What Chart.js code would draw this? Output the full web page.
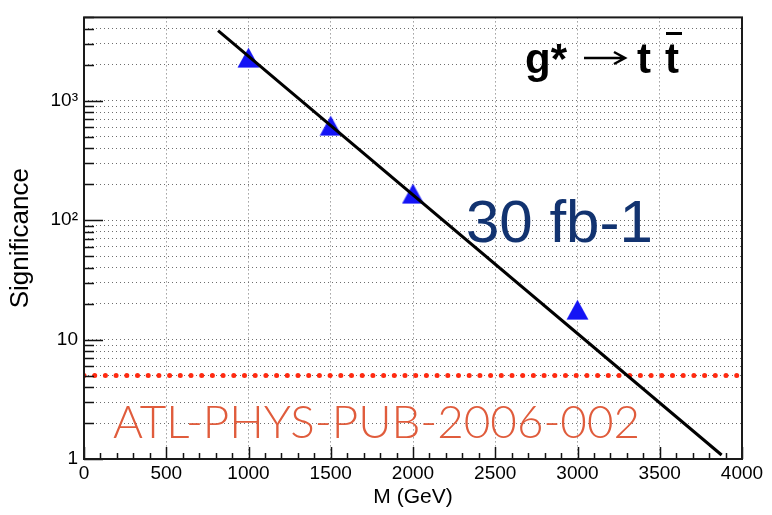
<!DOCTYPE html>
<html>
<head>
<meta charset="utf-8">
<script src="https://cdn.jsdelivr.net/npm/chart.js@4.4.1/dist/chart.umd.min.js"></script>
<style>
  html, body { margin: 0; padding: 0; background: #fff; }
  #wrap { width: 772px; height: 515px; }
</style>
</head>
<body>
<div id="wrap"><canvas id="sigChart" width="772" height="515"></canvas></div>
<script>
// signal significance vs resonance mass (g* -> t tbar, 30 fb-1)
const masses = [1000, 1500, 2000, 3000];
const significance = [2300, 620, 167, 17.8];

// straight-line fit drawn across the plot
const fitMass = [815, 3876];
const fitSignificance = [3880, 1.08];

// 5 sigma discovery level
const thresholdMass = [0, 4000];
const thresholdLevel = [5, 5];

const yTickLabels = { 1: '1', 10: '10', 100: '10\u00B2', 1000: '10\u00B3' };
const yMin = 1, yMax = 5000;
const xMin = 0, xMax = 4000;

function pairs(xs, ys) {
    return xs.map((x, i) => ({ x: x, y: ys[i] }));
}

// filled upward triangle, centred on its bounding box like ROOT markers
function triangleMarker(color) {
    const c = document.createElement('canvas');
    c.width = 23; c.height = 21;
    const g = c.getContext('2d');
    g.fillStyle = color;
    g.beginPath();
    g.moveTo(0.5, 20.5);
    g.lineTo(22.5, 20.5);
    g.lineTo(11.5, 0.5);
    g.closePath();
    g.fill();
    return c;
}

// inward tick marks, frame and the text on the plot
const decorations = {
    id: 'decorations',
    afterDraw(chart) {
        const { ctx, chartArea: a } = chart;
        const xs = chart.scales.x, ys = chart.scales.y;
        ctx.save();
        ctx.strokeStyle = '#111';
        ctx.lineWidth = 1.5;
        ctx.beginPath();
        for (let v = xMin; v <= xMax; v += 100) {
            const px = Math.round(xs.getPixelForValue(v)) + 0.5;
            const len = v % 500 === 0 ? 12 : 6;
            ctx.moveTo(px, a.bottom);
            ctx.lineTo(px, a.bottom - len);
        }
        ys.ticks.forEach(t => {
            const py = Math.round(ys.getPixelForValue(t.value)) + 0.5;
            const len = yTickLabels[t.value] ? 19 : 10;
            ctx.moveTo(a.left, py);
            ctx.lineTo(a.left + len, py);
        });
        ctx.stroke();

        // frame
        ctx.strokeStyle = '#1a1a1a';
        ctx.lineWidth = 2;
        ctx.strokeRect(a.left, a.top, a.right - a.left, a.bottom - a.top);

        // g* -> t tbar
        ctx.fillStyle = '#000';
        ctx.strokeStyle = '#000';
        ctx.textBaseline = 'alphabetic';
        ctx.textAlign = 'left';
        ctx.font = 'bold 42px "Liberation Sans", Arial, sans-serif';
        ctx.fillText('g*', 525, 73);
        ctx.lineWidth = 2.5;
        ctx.beginPath();
        ctx.moveTo(584, 58);
        ctx.lineTo(624, 58);
        ctx.moveTo(614, 52);
        ctx.lineTo(625, 58);
        ctx.lineTo(614, 64);
        ctx.stroke();
        ctx.fillText('t', 637, 73);
        ctx.fillText('t', 665, 73);
        ctx.fillRect(666, 32, 16, 3);

        // luminosity
        ctx.fillStyle = '#123370';
        ctx.font = '60px "Liberation Sans", Arial, sans-serif';
        ctx.fillText('30 fb-1', 466, 242);

        // reference note
        ctx.fillStyle = '#e05c3c';
        ctx.font = '300 46px Lato, "Open Sans", sans-serif';
        const ref = 'ATL-PHYS-PUB-2006-002';
        const w = ctx.measureText(ref).width;
        ctx.save();
        ctx.translate(113, 438);
        ctx.scale(527 / w, 1);
        ctx.fillText(ref, 0, 0);
        ctx.restore();
        ctx.restore();
    }
};

const gridStyle = { color: '#6e6e6e', lineWidth: 1, drawTicks: false };
const tickFont = { family: '"Liberation Sans", Arial, sans-serif', size: 19 };

new Chart(document.getElementById('sigChart'), {
    type: 'scatter',
    data: {
        datasets: [
            {
                label: 'fit',
                data: pairs(fitMass, fitSignificance),
                showLine: true,
                borderColor: '#000',
                borderWidth: 3,
                pointRadius: 0,
                order: 0
            },
            {
                label: 'significance',
                data: pairs(masses, significance),
                pointStyle: triangleMarker('#1414f5'),
                pointRadius: 11,
                order: 1
            },
            {
                label: '5 sigma',
                data: pairs(thresholdMass, thresholdLevel),
                showLine: true,
                borderColor: '#ff2a10',
                borderWidth: 5,
                borderDash: [0, 10.7],
                borderCapStyle: 'round',
                pointRadius: 0,
                order: 2
            }
        ]
    },
    options: {
        responsive: false,
        animation: false,
        layout: { padding: { left: 0, right: 30, top: 14, bottom: 0 } },
        plugins: {
            legend: { display: false },
            tooltip: { enabled: false }
        },
        scales: {
            x: {
                type: 'linear',
                min: xMin,
                max: xMax,
                grid: gridStyle,
                border: { display: false, dash: [1, 3] },
                ticks: {
                    stepSize: 500,
                    autoSkip: false,
                    maxRotation: 0,
                    padding: 3,
                    color: '#000',
                    font: tickFont,
                    callback: v => String(v)
                },
                title: {
                    display: true,
                    text: 'M (GeV)',
                    color: '#000',
                    padding: { top: 0, bottom: 5 },
                    font: { family: '"Liberation Sans", Arial, sans-serif', size: 21 }
                },
                afterFit(scale) { scale.height = 56; }
            },
            y: {
                type: 'logarithmic',
                min: yMin,
                max: yMax,
                grid: gridStyle,
                border: { display: false, dash: [1, 3] },
                afterBuildTicks(scale) {
                    const ticks = [];
                    for (let d = 1; d <= 1000; d *= 10) {
                        for (let m = 1; m <= 9; m++) {
                            const v = m * d;
                            if (v <= yMax) ticks.push({ value: v });
                        }
                    }
                    scale.ticks = ticks;
                },
                ticks: {
                    autoSkip: false,
                    padding: 6,
                    color: '#000',
                    font: tickFont,
                    callback: v => yTickLabels[v] || ''
                },
                title: {
                    display: true,
                    text: 'Significance',
                    color: '#000',
                    padding: { top: 5, bottom: 0 },
                    font: { family: '"Liberation Sans", Arial, sans-serif', size: 26 }
                },
                afterFit(scale) { scale.width = 84; }
            }
        }
    },
    plugins: [decorations]
});
</script>
</body>
</html>
